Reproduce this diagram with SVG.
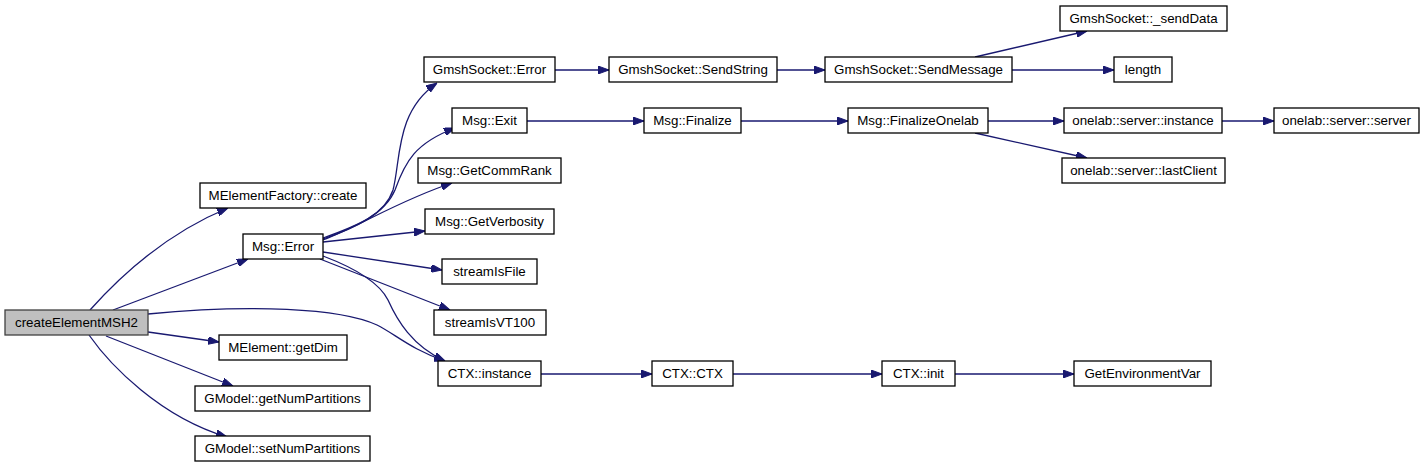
<svg xmlns="http://www.w3.org/2000/svg" width="1424" height="468" viewBox="0 0 1424 468">
<style>
.n rect{fill:#fff;stroke:#000;stroke-width:1.3}
.n text{font-family:"Liberation Sans",Arial,Helvetica,sans-serif;font-size:13.33px;fill:#000;text-anchor:middle}
#root rect{fill:#bfbfbf;stroke:#404040}
.e path{fill:none;stroke:#191970;stroke-width:1.3;marker-end:url(#ah)}
</style>
<defs>
<marker id="ah" markerUnits="userSpaceOnUse" markerWidth="11" markerHeight="8" refX="11" refY="4" orient="auto">
<path d="M0,0 L11,4 L0,8 z" fill="#191970" stroke="#191970" stroke-width="1"/>
</marker>
</defs>
<rect width="1424" height="468" fill="#fff"/>
<g id="edges" class="e">
<path d="M90,310 C115,282 160,236 228,208"/>
<path d="M113,310 L248,259"/>
<path d="M148,314 C250,304 340,308 377,325 C395,334 412,350 445,361"/>
<path d="M148,332 L219,342"/>
<path d="M106,336 L233,386"/>
<path d="M89,335 C110,365 160,417 227,437"/>
<path d="M323,238 C360,225 385,214 393,190 C401,160 395,112 437,83"/>
<path d="M323,239 C355,228 385,214 395,190 C405,162 415,143 455,128"/>
<path d="M323,240 C360,226 400,200 452,183"/>
<path d="M323,242 L425,231"/>
<path d="M323,252 L442,270"/>
<path d="M320,259 L450,310"/>
<path d="M323,256 C360,270 380,284 388,300 C397,320 412,346 445,361"/>
<path d="M555,70 L609,70"/>
<path d="M777,70 L825,70"/>
<path d="M975,57 L1087,31"/>
<path d="M1012,70 L1114,70"/>
<path d="M527,121 L644,121"/>
<path d="M741,121 L848,121"/>
<path d="M988,121 L1064,121"/>
<path d="M975,133 L1087,158"/>
<path d="M1222,121 L1274,121"/>
<path d="M541,374 L652,374"/>
<path d="M733,374 L882,374"/>
<path d="M955,374 L1074,374"/>
</g>
<g id="root" class="n"><rect x="5" y="310" width="143" height="25"/><text x="76.5" y="327">createElementMSH2</text></g>
<g id="n_mef" class="n"><rect x="200" y="183" width="166" height="25"/><text x="283" y="200">MElementFactory::create</text></g>
<g id="n_msgerror" class="n"><rect x="243" y="234" width="80" height="25"/><text x="283" y="251">Msg::Error</text></g>
<g id="n_getdim" class="n"><rect x="219" y="335" width="128" height="25"/><text x="283" y="352">MElement::getDim</text></g>
<g id="n_getnp" class="n"><rect x="195" y="386" width="175" height="25"/><text x="282.5" y="403">GModel::getNumPartitions</text></g>
<g id="n_setnp" class="n"><rect x="195" y="436" width="175" height="25"/><text x="282.5" y="453">GModel::setNumPartitions</text></g>
<g id="n_gserror" class="n"><rect x="424" y="57" width="131" height="25"/><text x="489.5" y="74">GmshSocket::Error</text></g>
<g id="n_exit" class="n"><rect x="452" y="108" width="75" height="25"/><text x="489.5" y="125">Msg::Exit</text></g>
<g id="n_commrank" class="n"><rect x="418" y="158" width="143" height="25"/><text x="489.5" y="175">Msg::GetCommRank</text></g>
<g id="n_verb" class="n"><rect x="425" y="209" width="129" height="25"/><text x="489.5" y="226">Msg::GetVerbosity</text></g>
<g id="n_sif" class="n"><rect x="442" y="259" width="95" height="25"/><text x="489.5" y="276">streamIsFile</text></g>
<g id="n_vt" class="n"><rect x="434" y="310" width="112" height="25"/><text x="490" y="327">streamIsVT100</text></g>
<g id="n_ctxinst" class="n"><rect x="438" y="361" width="103" height="25"/><text x="489.5" y="378">CTX::instance</text></g>
<g id="n_sendstring" class="n"><rect x="609" y="57" width="168" height="25"/><text x="693" y="74">GmshSocket::SendString</text></g>
<g id="n_sendmsg" class="n"><rect x="825" y="57" width="187" height="25"/><text x="918.5" y="74">GmshSocket::SendMessage</text></g>
<g id="n_senddata" class="n"><rect x="1060" y="6" width="167" height="25"/><text x="1143.5" y="23">GmshSocket::_sendData</text></g>
<g id="n_length" class="n"><rect x="1114" y="57" width="58" height="25"/><text x="1143" y="74">length</text></g>
<g id="n_finalize" class="n"><rect x="644" y="108" width="97" height="25"/><text x="692.5" y="125">Msg::Finalize</text></g>
<g id="n_finonelab" class="n"><rect x="848" y="108" width="140" height="25"/><text x="918" y="125">Msg::FinalizeOnelab</text></g>
<g id="n_osinst" class="n"><rect x="1064" y="108" width="158" height="25"/><text x="1143" y="125">onelab::server::instance</text></g>
<g id="n_osserver" class="n"><rect x="1274" y="108" width="145" height="25"/><text x="1346.5" y="125">onelab::server::server</text></g>
<g id="n_oslast" class="n"><rect x="1062" y="158" width="163" height="25"/><text x="1143.5" y="175">onelab::server::lastClient</text></g>
<g id="n_ctxctx" class="n"><rect x="652" y="361" width="81" height="25"/><text x="692.5" y="378">CTX::CTX</text></g>
<g id="n_ctxinit" class="n"><rect x="882" y="361" width="73" height="25"/><text x="918.5" y="378">CTX::init</text></g>
<g id="n_getenv" class="n"><rect x="1074" y="361" width="137" height="25"/><text x="1142.5" y="378">GetEnvironmentVar</text></g>
</svg>
